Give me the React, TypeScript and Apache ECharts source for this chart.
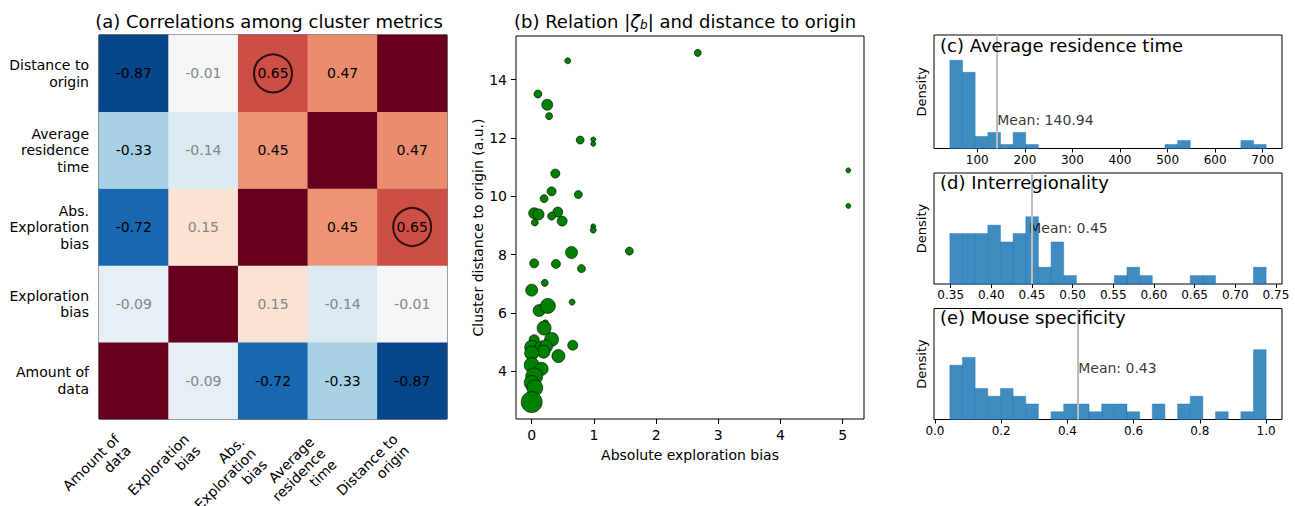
import React, { useEffect, useRef } from "react";
import * as echarts from "echarts";

// ---------- (a) correlation matrix ----------
const metricLabels = [
  "Amount of\ndata",
  "Exploration\nbias",
  "Abs.\nExploration\nbias",
  "Average\nresidence\ntime",
  "Distance to\norigin",
];
const corrAmount = [1, -0.09, -0.72, -0.33, -0.87];
const corrExplBias = [-0.09, 1, 0.15, -0.14, -0.01];
const corrAbsExplBias = [-0.72, 0.15, 1, 0.45, 0.65];
const corrResidence = [-0.33, -0.14, 0.45, 1, 0.47];
const corrDistance = [-0.87, -0.01, 0.65, 0.47, 1];
const corrRows = [corrAmount, corrExplBias, corrAbsExplBias, corrResidence, corrDistance];
const circledCells = [
  [2, 4],
  [4, 2],
];

// ---------- (b) scatter ----------
const absBias = [0.58, 0.1, 0.25, 0.28, 0.78, 0.99, 0.99, 0.38, 0.32, 0.75, 0.2, 0.04, 0.11, 0.42, 0.32, 0.49, 0.05, 0.99, 0.99, 2.67, 5.09, 5.09, 0.64, 1.57, 0.04, 0.39, 0.8, 0.21, 0.0, 0.65, 0.12, 0.26, 0.22, 0.2, 0.32, 0.04, 0.66, 0.0, 0.16, 0.23, 0.19, 0.0, 0.43, 0.0, 0.16, 0.04, 0.0, 0.05, 0.0];
const distOrigin = [14.65, 13.51, 13.14, 12.75, 11.93, 11.95, 11.8, 10.78, 10.17, 10.06, 9.92, 9.42, 9.38, 9.46, 9.32, 9.15, 9.1, 8.97, 8.84, 14.92, 10.89, 9.67, 8.07, 8.12, 7.7, 7.68, 7.52, 7.03, 6.78, 6.37, 6.08, 6.24, 5.66, 5.48, 5.09, 5.08, 4.89, 4.82, 4.8, 4.85, 4.67, 4.62, 4.52, 4.21, 4.08, 3.82, 3.6, 3.43, 2.94];
const dataAmount = [36, 64, 121, 49, 64, 25, 25, 81, 81, 64, 64, 121, 121, 100, 64, 100, 49, 25, 36, 49, 25, 25, 144, 64, 81, 81, 64, 49, 144, 36, 144, 225, 36, 196, 196, 100, 100, 196, 196, 169, 169, 196, 169, 225, 169, 289, 225, 256, 441];
const scatterXTicks = [0, 1, 2, 3, 4, 5];
const scatterYTicks = [4, 6, 8, 10, 12, 14];

// ---------- (c)(d)(e) histograms ----------
const residenceRange = [42.3, 707.3];
const residenceCounts = [22, 19, 3, 4, 1, 4, 1, 0, 0, 0, 0, 0, 0, 0, 0, 0, 0, 1, 2, 0, 0, 0, 0, 2, 1];
const residenceTicks = [100, 200, 300, 400, 500, 600, 700];
const interregRange = [0.349, 0.738];
const interregCounts = [6, 6, 6, 7, 5, 6, 8, 2, 5, 1, 0, 0, 0, 1, 2, 1, 0, 0, 0, 1, 1, 0, 0, 0, 2];
const interregTicks = [0.35, 0.4, 0.45, 0.5, 0.55, 0.6, 0.65, 0.7, 0.75];
const specificityRange = [0.045, 1.0];
const specificityCounts = [7, 8, 4, 3, 4, 3, 2, 0, 1, 2, 2, 1, 2, 2, 1, 0, 2, 0, 2, 3, 0, 1, 0, 1, 9];
const specificityTicks = [0, 0.2, 0.4, 0.6, 0.8, 1.0];
const histMeans = [140.94, 0.446, 0.431];
const histTitles = ["(c) Average residence time", "(d) Interregionality", "(e) Mouse specificity"];

const FONT = "DejaVu Sans";
const RDBU_R = ["#052c63", "#0a54a0", "#2a86c2", "#92c5de", "#d1e5f0", "#f7f7f7", "#fddbc7", "#f4a582", "#d6604d", "#b2182b", "#67001f"];

function binsToData(range: number[], counts: number[]) {
  const w = (range[1] - range[0]) / counts.length;
  const out: number[][] = [];
  counts.forEach((c, k) => {
    if (c > 0) out.push([range[0] + k * w, range[0] + (k + 1) * w, c]);
  });
  return out;
}

function buildOption() {
  const heatData: any[] = [];
  corrRows.forEach((row, y) => {
    row.forEach((v, x) => {
      heatData.push({
        value: [x, y, v],
        label: { color: Math.abs(v) < 0.3 ? "#858585" : "#000" },
      });
    });
  });

  const LINE_H = 16;
  const xCats = metricLabels.map((m) => {
    const n = m.split("\n").length;
    const extra = n - 2;
    return { value: m, textStyle: { padding: [extra * 8, (n * LINE_H) / 2 + extra * 4, 0, 0] } };
  });

  const hists = [
    { range: residenceRange, counts: residenceCounts, ticks: residenceTicks, min: 9.0, max: 740.5, ymax: 28.3, fmt: (v: number) => String(v), labelY: 7.0 },
    { range: interregRange, counts: interregCounts, ticks: interregTicks, min: 0.3295, max: 0.7575, ymax: 13.2, fmt: (v: number) => v.toFixed(2), labelY: 6.7 },
    { range: specificityRange, counts: specificityCounts, ticks: specificityTicks, min: -0.0028, max: 1.0478, ymax: 14.3, fmt: (v: number) => v.toFixed(1), labelY: 6.6 },
  ];
  const histGrids = [
    { left: 934, top: 35, width: 348, height: 113.5 },
    { left: 934, top: 173, width: 348, height: 111 },
    { left: 934, top: 308.5, width: 348, height: 111 },
  ];
  const titleTops = [35, 172, 307];

  const gridBase = { show: true, borderColor: "#000", borderWidth: 1, containLabel: false, outerBoundsMode: "none" };
  const grids: any[] = [
    { ...gridBase, left: 99, top: 35, width: 348, height: 384 },
    { ...gridBase, left: 516, top: 36, width: 348, height: 383 },
    ...histGrids.map((g) => ({ ...gridBase, ...g })),
  ];

  const noLine = { show: false, onZero: false };

  const xAxes: any[] = [
    {
      type: "category",
      gridIndex: 0,
      data: xCats,
      axisLine: noLine,
      axisTick: { alignWithLabel: true, length: 5, lineStyle: { color: "#000" } },
      axisLabel: { rotate: 45, interval: 0, fontSize: 14, color: "#000", margin: 12, lineHeight: LINE_H, align: "right", verticalAlign: "middle" },
      splitLine: { show: false },
    },
    {
      type: "value",
      gridIndex: 1,
      min: -0.252,
      max: 5.342,
      axisLine: noLine,
      axisTick: { show: true, length: 5, customValues: scatterXTicks, lineStyle: { color: "#000" } },
      axisLabel: { customValues: scatterXTicks, fontSize: 14, color: "#000", margin: 9 },
      splitLine: { show: false },
      name: "Absolute exploration bias",
      nameLocation: "middle",
      nameGap: 29,
      nameTextStyle: { fontSize: 14, color: "#000" },
    },
    ...hists.map((h, i) => ({
      type: "value",
      gridIndex: 2 + i,
      min: h.min,
      max: h.max,
      axisLine: noLine,
      axisTick: { show: true, length: 4, customValues: h.ticks, lineStyle: { color: "#000" } },
      axisLabel: { customValues: h.ticks, fontSize: 12, color: "#000", margin: 5, formatter: h.fmt },
      splitLine: { show: false },
    })),
  ];

  const yAxes: any[] = [
    {
      type: "category",
      gridIndex: 0,
      data: metricLabels,
      axisLine: noLine,
      axisTick: { alignWithLabel: true, length: 5, lineStyle: { color: "#000" } },
      axisLabel: { interval: 0, fontSize: 14, color: "#000", margin: 10, lineHeight: 16.5, align: "right", padding: [6, 0, 0, 0] },
      splitLine: { show: false },
    },
    {
      type: "value",
      gridIndex: 1,
      min: 2.36,
      max: 15.5,
      axisLine: noLine,
      axisTick: { show: true, length: 5, customValues: scatterYTicks, lineStyle: { color: "#000" } },
      axisLabel: { customValues: scatterYTicks, fontSize: 14, color: "#000", margin: 9 },
      splitLine: { show: false },
      name: "Cluster distance to origin (a.u.)",
      nameLocation: "middle",
      nameGap: 29,
      nameRotate: 90,
      nameTextStyle: { fontSize: 14, color: "#000" },
    },
    ...hists.map((h, i) => ({
      type: "value",
      gridIndex: 2 + i,
      min: 0,
      max: h.ymax,
      axisLine: noLine,
      axisTick: { show: false },
      axisLabel: { show: false },
      splitLine: { show: false },
      name: "Density",
      nameLocation: "middle",
      nameGap: 6,
      nameRotate: 90,
      nameTextStyle: { fontSize: 13, color: "#000" },
    })),
  ];

  const series: any[] = [
    {
      type: "heatmap",
      xAxisIndex: 0,
      yAxisIndex: 0,
      data: heatData,
      label: {
        show: true,
        fontSize: 14,
        formatter: (p: any) => (p.value[0] === p.value[1] ? "" : p.value[2].toFixed(2)),
      },
      emphasis: { disabled: true },
      itemStyle: { borderWidth: 0 },
    },
    {
      type: "scatter",
      xAxisIndex: 0,
      yAxisIndex: 0,
      data: circledCells,
      symbol: "circle",
      symbolSize: 38,
      itemStyle: { color: "rgba(0,0,0,0)", borderColor: "#000", borderWidth: 2 },
      emphasis: { disabled: true },
      z: 5,
    },
    {
      type: "scatter",
      xAxisIndex: 1,
      yAxisIndex: 1,
      data: absBias.map((x, i) => [x, distOrigin[i], dataAmount[i]]),
      symbolSize: (v: number[]) => Math.sqrt(v[2]),
      itemStyle: { color: "#008000", borderColor: "#000", borderWidth: 0.6, opacity: 1 },
      emphasis: { disabled: true },
    },
  ];

  hists.forEach((h, i) => {
    series.push({
      type: "custom",
      xAxisIndex: 2 + i,
      yAxisIndex: 2 + i,
      data: binsToData(h.range, h.counts),
      encode: { x: [0, 1], y: 2 },
      renderItem: (params: any, api: any) => {
        const p0 = api.coord([api.value(0), api.value(2)]);
        const p1 = api.coord([api.value(1), 0]);
        return {
          type: "rect",
          shape: { x: p0[0], y: p0[1], width: p1[0] - p0[0], height: p1[1] - p0[1] },
          style: { fill: "rgba(31,119,180,0.85)", stroke: "rgba(31,119,180,0.85)", lineWidth: 0.5 },
        };
      },
      silent: true,
    });
    series.push({
      type: "scatter",
      xAxisIndex: 2 + i,
      yAxisIndex: 2 + i,
      data: [[histMeans[i], h.labelY]],
      symbolSize: 1,
      itemStyle: { color: "rgba(0,0,0,0)" },
      label: {
        show: true,
        position: "right",
        distance: 0,
        fontSize: 14,
        color: "#000",
        formatter: () => "Mean: " + histMeans[i].toFixed(2),
      },
      markLine: {
        silent: true,
        symbol: ["none", "none"],
        label: { show: false },
        lineStyle: { color: "#bdbdbd", width: 2, type: "solid" },
        data: [{ xAxis: histMeans[i] }],
      },
      silent: true,
      z: 4,
    });
  });

  const titles: any[] = [
    {
      text: "(a) Correlations among cluster metrics",
      left: 269,
      textAlign: "center",
      top: 12,
      padding: 0,
      textStyle: { fontSize: 18, fontWeight: "normal", color: "#000", fontFamily: FONT },
    },
    {
      text: "(b) Relation |{z|ζ}{s|b}| and distance to origin",
      left: 685,
      textAlign: "center",
      top: 11,
      padding: 0,
      textStyle: {
        fontSize: 18,
        fontWeight: "normal",
        color: "#000",
        fontFamily: FONT,
        rich: {
          z: { fontSize: 18, fontStyle: "italic", color: "#000", fontFamily: FONT },
          s: { fontSize: 12, fontStyle: "italic", color: "#000", fontFamily: FONT, verticalAlign: "bottom", padding: [8, 0, 0, 0] },
        },
      },
    },
    ...histTitles.map((t, i) => ({
      text: t,
      left: 940,
      top: titleTops[i] + 1,
      padding: 0,
      textStyle: { fontSize: 18, fontWeight: "normal", color: "#000", fontFamily: FONT },
    })),
  ];

  return {
    animation: false,
    backgroundColor: "#fff",
    textStyle: { fontFamily: FONT },
    title: titles,
    grid: grids,
    xAxis: xAxes,
    yAxis: yAxes,
    visualMap: {
      type: "continuous",
      show: false,
      min: -1,
      max: 1,
      seriesIndex: 0,
      dimension: 2,
      inRange: { color: RDBU_R },
    },
    series,
  };
}

export default function App() {
  const ref = useRef<HTMLDivElement>(null);
  useEffect(() => {
    if (!ref.current) return;
    const chart = echarts.init(ref.current, undefined, { renderer: "svg" });
    chart.setOption(buildOption() as any);
    return () => chart.dispose();
  }, []);
  return (
    <div
      ref={ref}
      style={{ position: "absolute", left: 0, top: 0, width: 1295, height: 506, background: "#fff" }}
    />
  );
}
